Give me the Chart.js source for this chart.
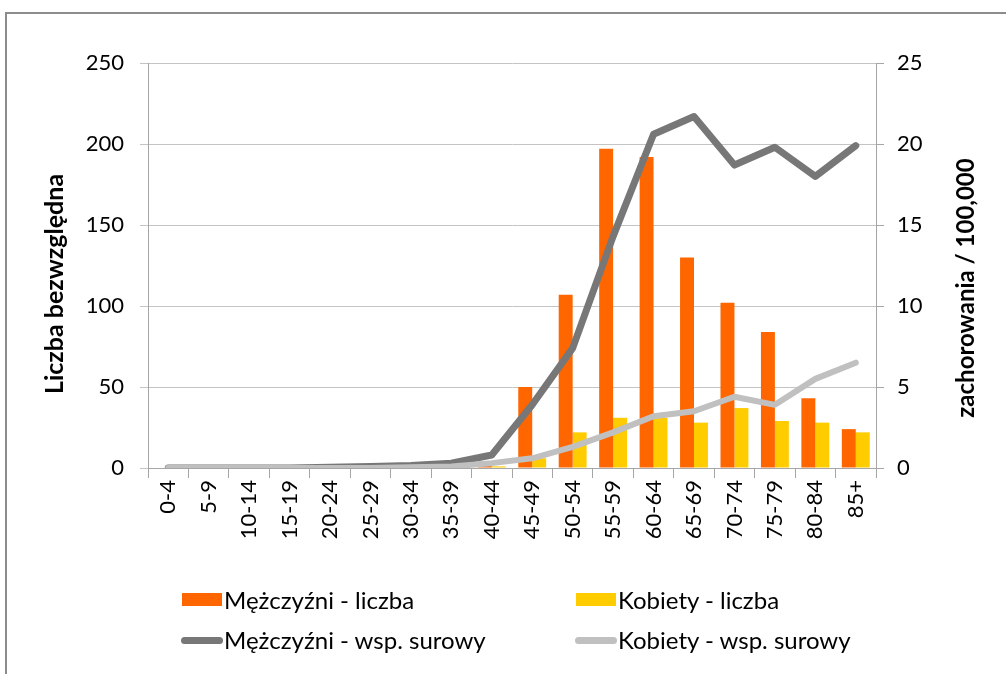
<!DOCTYPE html>
<html>
<head>
<meta charset="utf-8">
<script src="https://cdn.jsdelivr.net/npm/chart.js@4.4.1/dist/chart.umd.min.js"></script>
<style>
	body { margin: 0; background: #fff; font-family: Lato, sans-serif; }
	#frame { position: absolute; left: 5px; top: 12px; width: 1010px; height: 680px; border-left: 2px solid #8c8c8c; border-top: 2px solid #8c8c8c; }
	#wrap { position: absolute; left: 0; top: 0; width: 1006px; height: 674px; }
	.leg { position: absolute; font-size: 24px; color: #000; white-space: nowrap; line-height: 24px; }
	.sw { position: absolute; }
</style>
</head>
<body>
<div id="frame"></div>
<div id="wrap"><canvas id="chart"></canvas></div>

<div class="sw" style="left:182px;top:593px;width:40px;height:13px;background:#FF6600"></div>
<div class="leg" style="left:224px;top:588px">Mężczyźni - liczba</div>
<div class="sw" style="left:576px;top:593px;width:40px;height:13px;background:#FFCC00"></div>
<div class="leg" style="left:618px;top:588px">Kobiety - liczba</div>
<div class="sw" style="left:181px;top:637px;width:42px;height:7px;border-radius:4px;background:#777777"></div>
<div class="leg" style="left:224px;top:628px">Mężczyźni - wsp. surowy</div>
<div class="sw" style="left:575px;top:637px;width:42px;height:7px;border-radius:4px;background:#C0C0C0"></div>
<div class="leg" style="left:618px;top:628px">Kobiety - wsp. surowy</div>

<script>
let ageGroups = ['0-4', '5-9', '10-14', '15-19', '20-24', '25-29', '30-34', '35-39', '40-44',
	'45-49', '50-54', '55-59', '60-64', '65-69', '70-74', '75-79', '80-84', '85+'];

let menCount = [0, 0, 0, 0, 0, 0, 0, 1, 4, 50, 107, 197, 192, 130, 102, 84, 43, 24];
let womenCount = [0, 0, 0, 0, 0, 0, 0, 0, 1, 6, 22, 31, 31, 28, 37, 29, 28, 22];

let menRate = [0, 0, 0, 0, 0.05, 0.1, 0.15, 0.3, 0.8, 3.9, 7.4, 14.3, 20.6, 21.7, 18.7, 19.8, 18.0, 19.9];
let womenRate = [0, 0, 0, 0, 0, 0, 0.05, 0.1, 0.3, 0.6, 1.3, 2.2, 3.2, 3.5, 4.4, 3.9, 5.5, 6.5];

let leftTitle = 'Liczba bezwzględna';
let rightTitle = 'zachorowania / 100,000';

// axis titles are drawn by hand, the right one reads bottom-to-top like the original
let sideTitles = {
	id: 'sideTitles',
	afterDraw(chart) {
		let ctx = chart.ctx;
		ctx.save();
		ctx.font = 'bold 25px Lato';
		ctx.fillStyle = '#000';
		ctx.textAlign = 'center';
		ctx.textBaseline = 'middle';
		ctx.translate(55, 284);
		ctx.rotate(-Math.PI / 2);
		ctx.fillText(leftTitle, 0, 0);
		ctx.restore();

		ctx.save();
		ctx.font = 'bold 24px Lato';
		ctx.fillStyle = '#000';
		ctx.textAlign = 'center';
		ctx.textBaseline = 'middle';
		ctx.translate(966, 288);
		ctx.rotate(-Math.PI / 2);
		ctx.fillText(rightTitle, 0, 0);
		ctx.restore();
	}
};

try {
	let tickFont = { family: 'Lato', size: 22 };

	new Chart(document.getElementById('chart'), {
		type: 'bar',
		data: {
			labels: ageGroups,
			datasets: [{
				type: 'line',
				label: 'Mężczyźni - wsp. surowy',
				data: menRate,
				yAxisID: 'y1',
				borderColor: '#777777',
				borderWidth: 7,
				pointRadius: 0,
				borderJoinStyle: 'round',
				borderCapStyle: 'round',
				fill: false,
				order: 1
			},
			{
				type: 'line',
				label: 'Kobiety - wsp. surowy',
				data: womenRate,
				yAxisID: 'y1',
				borderColor: '#C0C0C0',
				borderWidth: 6,
				pointRadius: 0,
				borderJoinStyle: 'round',
				borderCapStyle: 'round',
				fill: false,
				order: 0
			},
			{
				label: 'Mężczyźni - liczba',
				data: menCount,
				yAxisID: 'y',
				backgroundColor: '#FF6600',
				barPercentage: 1,
				categoryPercentage: 0.69,
				order: 2
			},
			{
				label: 'Kobiety - liczba',
				data: womenCount,
				yAxisID: 'y',
				backgroundColor: '#FFCC00',
				barPercentage: 1,
				categoryPercentage: 0.69,
				order: 2
			}]
		},
		options: {
			responsive: true,
			maintainAspectRatio: false,
			animation: false,
			layout: { padding: { left: 38, top: 63, right: 0, bottom: 114 } },
			plugins: {
				legend: { display: false },
				tooltip: { enabled: false }
			},
			scales: {
				x: {
					offset: true,
					grid: { display: true, drawOnChartArea: false, offset: true, tickLength: 10, color: '#a6a6a6' },
					border: { color: '#a6a6a6' },
					ticks: { minRotation: 90, maxRotation: 90, font: tickFont, color: '#000', padding: 2, autoSkip: false },
					afterFit: function (s) { s.height = 92; }
				},
				y: {
					position: 'left',
					min: 0,
					max: 250,
					ticks: { stepSize: 50, font: tickFont, color: '#000', padding: 16 },
					grid: { color: '#c4c4c4', tickLength: 8 },
					border: { color: '#a6a6a6' },
					afterFit: function (s) { s.width = 110; }
				},
				y1: {
					position: 'right',
					min: 0,
					max: 25,
					ticks: { stepSize: 5, font: tickFont, color: '#000', padding: 13 },
					grid: { drawOnChartArea: false, tickLength: 8, color: '#a6a6a6' },
					border: { color: '#a6a6a6' },
					afterFit: function (s) { s.width = 130; }
				}
			}
		},
		plugins: [sideTitles]
	});
}
catch (error) {
	console.log(error);
}
</script>
</body>
</html>
